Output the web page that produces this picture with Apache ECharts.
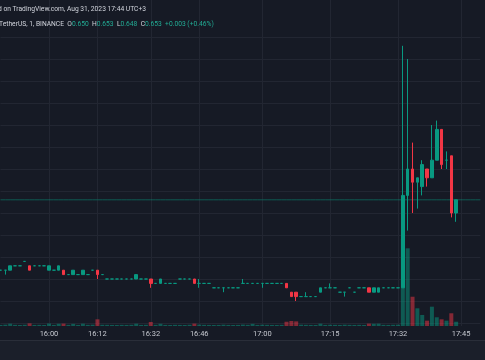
<!DOCTYPE html>
<html><head><meta charset="utf-8">
<script src="https://cdn.jsdelivr.net/npm/echarts@6/dist/echarts.min.js"></script>
<style>html,body{margin:0;padding:0;background:#161a25;}#c{width:485px;height:360px;}</style>
</head><body><div id="c"></div>
<script>
// one-minute bars (minutes without trades are skipped, as on the source chart)
const times = [
'15:47','15:48','15:49','15:51','15:52','15:53','15:55','15:57','15:58','15:59',
'16:00','16:01','16:02','16:03','16:05','16:06','16:07','16:08','16:10','16:11',
'16:12','16:13','16:15','16:17','16:19','16:21','16:23','16:25','16:27','16:29','16:30',
'16:32','16:33','16:34','16:36','16:37','16:39','16:40','16:42','16:43','16:45',
'16:46','16:47','16:48','16:49','16:50','16:51','16:52','16:54','16:55','16:56','16:57','16:58','16:59',
'17:00','17:01','17:02','17:03','17:04','17:05','17:06','17:07','17:09','17:10','17:11','17:12','17:13','17:14',
'17:15','17:16','17:17','17:18','17:20','17:21','17:22','17:24','17:25','17:26','17:28','17:29','17:30','17:31',
'17:32','17:33','17:34','17:35','17:36','17:37','17:38','17:39','17:40','17:41','17:42','17:43','17:44',
'17:45','17:46','17:47','17:48','17:49'
];
const tickLabels = ['16:00','16:12','16:32','16:46','17:00','17:15','17:32','17:45'];
// [open, high, low, close]
const ohlc = [
[.637,.637,.637,.637],[.637,.637,.636,.637],[.637,.638,.637,.638],[.638,.638,.638,.638],[.638,.638,.638,.638],
[.639,.639,.639,.639],[.638,.638,.637,.637],[.638,.638,.638,.638],[.638,.638,.638,.638],[.638,.638,.638,.638],
[.637,.638,.637,.638],[.637,.637,.637,.637],[.637,.638,.637,.638],[.637,.637,.636,.636],[.636,.636,.636,.636],
[.636,.637,.636,.637],[.636,.636,.636,.636],[.636,.637,.636,.637],[.636,.636,.636,.636],[.637,.637,.637,.637],
[.637,.637,.635,.636],[.636,.636,.636,.636],[.635,.635,.635,.635],[.635,.635,.635,.635],[.635,.635,.635,.635],
[.635,.635,.635,.635],[.635,.635,.635,.635],[.635,.635,.635,.635],[.635,.636,.635,.636],[.635,.635,.635,.635],
[.635,.635,.635,.635],[.635,.635,.633,.634],[.634,.634,.634,.634],[.634,.635,.634,.635],[.634,.634,.634,.634],
[.634,.634,.634,.634],[.634,.634,.634,.634],[.635,.635,.635,.635],[.635,.635,.635,.635],[.635,.635,.635,.635],
[.635,.635,.634,.634],[.634,.635,.633,.634],[.634,.634,.634,.634],[.634,.634,.634,.634],[.633,.633,.633,.633],
[.633,.633,.633,.633],[.633,.633,.632,.633],[.633,.633,.633,.633],[.633,.633,.633,.633],[.633,.633,.633,.633],
[.634,.635,.634,.634],[.634,.634,.634,.634],[.634,.634,.634,.634],[.634,.634,.634,.634],[.634,.634,.633,.634],
[.634,.634,.634,.634],[.634,.634,.634,.634],[.634,.634,.634,.634],[.634,.634,.634,.634],[.634,.634,.633,.633],
[.632,.632,.631,.631],[.632,.632,.630,.631],[.631,.631,.631,.631],[.631,.632,.631,.631],[.631,.631,.631,.631],
[.631,.631,.631,.631],[.632,.633,.632,.633],[.633,.633,.633,.633],[.633,.634,.633,.633],[.633,.633,.633,.633],
[.632,.632,.632,.632],[.632,.632,.631,.632],[.633,.633,.633,.633],[.632,.632,.632,.632],[.633,.633,.633,.633],
[.633,.633,.633,.633],[.633,.633,.632,.632],[.632,.633,.632,.633],[.632,.633,.632,.633],[.633,.633,.633,.633],
[.633,.633,.633,.633],[.633,.633,.633,.633],[.633,.633,.633,.633],
[.633,.688,.633,.654],[.654,.685,.646,.660],[.660,.666,.650,.657],[.657,.658,.651,.658],[.656,.662,.654,.661],
[.660,.660,.656,.658],[.658,.670,.658,.662],[.662,.671,.662,.669],[.669,.669,.660,.661],[.662,.664,.660,.662],
[.663,.663,.649,.650],[.650,.653,.648,.653]
];
const volume = [
1200,1500,2600,1300,1100,1400,3000,1200,1300,1100,
2800,1200,2500,2700,1300,2400,1200,2600,1300,1500,
7500,1400,1300,1200,1100,1300,1200,1400,2600,1200,
1300,4500,1300,2500,1200,1100,1300,1200,1100,1400,
2700,1600,1300,1200,1100,1200,1500,1200,1100,1200,
1600,1300,2400,1200,1500,1300,1200,1100,1300,4800,
5600,5200,1500,1300,1200,1100,2600,1200,1400,1300,
1200,1500,1300,1200,1300,1100,2700,2500,2600,1300,
1200,1400,1500,
98000,87300,32900,19900,12400,6000,21700,9800,7500,6000,14300,4800
];
const lastClose = 0.653;

const UP = '#089981', DOWN = '#f23645';
const UPV = 'rgba(8,153,129,0.5)', DOWNV = 'rgba(242,54,69,0.5)';
const FONT = 'Roboto, sans-serif';

const candleData = times.map((t, i) => {
  const b = ohlc[i];
  return b ? [b[0], b[3], b[2], b[1]] : '-';
});
const volData = times.map((t, i) => {
  const b = ohlc[i];
  if (!b) return '-';
  return { value: volume[i], itemStyle: { color: b[3] >= b[0] ? UPV : DOWNV } };
});
const priceLineData = times.map(() => lastClose);
const isTick = (i, v) => tickLabels.indexOf(v) >= 0;
const GL = 0.5, GR = 4.6;
const gridColor = '#222632';

const chart = echarts.init(document.getElementById('c'), null, { renderer: 'canvas' });
chart.setOption({
  backgroundColor: '#161a25',
  animation: false,
  grid: [
    { left: GL, right: GR, top: 37, bottom: 37 },
    { left: GL, right: GR, top: 237, bottom: 34 },
    { left: GL, right: GR, top: 0, bottom: 34 }
  ],
  xAxis: [
    { type: 'category', gridIndex: 0, data: times, boundaryGap: false,
      axisLine: { show: false }, axisTick: { show: false }, axisLabel: { show: false }, splitLine: { show: false } },
    { type: 'category', gridIndex: 1, data: times, boundaryGap: false,
      axisLine: { show: false }, axisTick: { show: false }, splitLine: { show: false },
      axisLabel: { interval: isTick, color: '#c5c8cf', fontSize: 7.5, fontFamily: FONT, margin: 4 } },
    { type: 'category', gridIndex: 2, data: times, boundaryGap: false,
      axisLine: { show: false }, axisTick: { show: false }, axisLabel: { show: false },
      splitLine: { show: true, interval: isTick, lineStyle: { color: gridColor, width: 1 } } }
  ],
  yAxis: [
    { type: 'value', gridIndex: 0, min: 0.625, max: 0.690, interval: 0.005,
      axisLine: { show: false }, axisTick: { show: false }, axisLabel: { show: false },
      splitLine: { show: true, lineStyle: { color: gridColor, width: 1 } } },
    { type: 'value', gridIndex: 1, min: 0, max: 100000, show: false, splitLine: { show: false } },
    { type: 'value', gridIndex: 2, min: 0, max: 1, show: false, splitLine: { show: false } }
  ],
  series: [
    { type: 'bar', xAxisIndex: 1, yAxisIndex: 1, data: volData, barWidth: 4, z: 1, silent: true },
    { type: 'line', xAxisIndex: 0, yAxisIndex: 0, data: priceLineData, symbol: 'none', silent: true, z: 2,
      lineStyle: { color: 'rgba(8,153,129,0.5)', width: 1 } },
    { type: 'candlestick', xAxisIndex: 0, yAxisIndex: 0, data: candleData, barWidth: 3, z: 3, silent: true,
      itemStyle: { color: UP, color0: DOWN, borderColor: UP, borderColor0: DOWN, borderColorDoji: UP, borderWidth: 1 } }
  ],
  graphic: [
    { type: 'rect', shape: { x: 0, y: 340, width: 485, height: 20 }, style: { fill: '#1b1f2a' }, z: 10 },
    { type: 'line', shape: { x1: 0, y1: 340.5, x2: 485, y2: 340.5 }, style: { stroke: '#2a2e39', lineWidth: 1 }, z: 11 },
    { type: 'text', x: 146, y: 9, z: 12,
      style: { text: 'Published on TradingView.com, Aug 31, 2023 17:44 UTC+3', align: 'right', verticalAlign: 'middle',
        fill: '#d1d4dc', font: '6.7px ' + FONT } },
    { type: 'text', x: -1, y: 24, z: 12,
      style: { text: '{w|TetherUS, 1, BINANCE}  {w|O}{g|0.650}  {w|H}{g|0.653}  {w|L}{g|0.648}  {w|C}{g|0.653}  {g|+0.003 (+0.46%)}',
        verticalAlign: 'middle', font: '6.7px ' + FONT,
        rich: { w: { fill: '#d1d4dc', font: '6.7px ' + FONT }, g: { fill: '#22ab94', font: '6.7px ' + FONT } } } }
  ]
});
</script>
</body></html>
